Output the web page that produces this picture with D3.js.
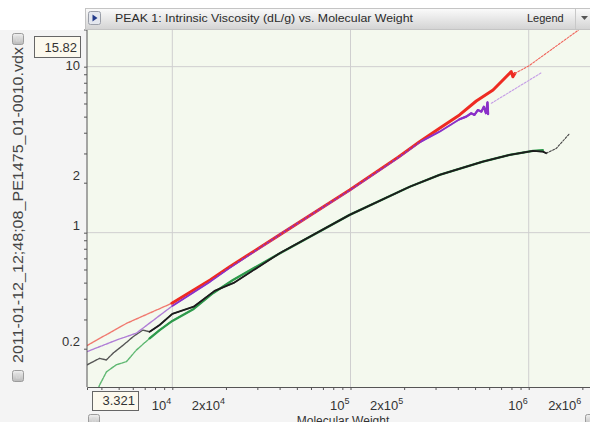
<!DOCTYPE html>
<html>
<head>
<meta charset="utf-8">
<script src="https://cdn.jsdelivr.net/npm/d3@7"></script>
<style>
  body { margin: 0; background: #fff; }
  svg { display: block; font-family: "Liberation Sans", Arial, sans-serif; }
</style>
</head>
<body>
<script>
/* values */
const TITLE = "PEAK 1: Intrinsic Viscosity (dL/g) vs. Molecular Weight";
const FILE_NAME = "2011-01-12_12;48;08_PE1475_01-0010.vdx";
const X_TITLE = "Molecular Weight";
const X_MIN = 3321, Y_MAX = 15.82;           // shown in the two range boxes

const redMW = [3321, 5560, 9950, 16300, 21000, 40000, 98900, 185000, 244000, 316000, 409000, 508000, 631000, 798000, 815000, 836000];
const redIV = [0.209, 0.285, 0.376, 0.519, 0.624, 0.97, 1.81, 2.85, 3.53, 4.25, 5.12, 6.21, 7.24, 9.33, 8.7, 9.1];
const redFitMW = [836000, 1000000, 1900000];
const redFitIV = [9.1, 10.1, 16.6];

const purpleMW = [3321, 4890, 6280, 10000, 16300, 21000, 40000, 98900, 185000, 244000, 316000, 409000, 446000, 476000, 496000, 518000, 543000, 560000, 575000, 587000, 592000];
const purpleIV = [0.192, 0.226, 0.248, 0.362, 0.507, 0.615, 0.97, 1.80, 2.83, 3.5, 4.06, 4.82, 5.0, 5.24, 5.12, 5.48, 5.36, 5.74, 5.24, 6.1, 5.18];
const purpleFitMW = [617000, 1180000];
const purpleFitIV = [6.02, 9.2];

const blackMW = [3330, 3910, 4260, 4650, 5330, 6020, 6840, 7460, 8490, 10000, 13180, 17270, 22100, 40000, 98900, 214800, 316000, 553000, 782000, 1057000, 1200000, 1256000];
const blackIV = [0.160, 0.175, 0.171, 0.188, 0.211, 0.236, 0.259, 0.253, 0.278, 0.324, 0.358, 0.446, 0.498, 0.751, 1.28, 1.89, 2.23, 2.68, 2.94, 3.11, 3.08, 3.01];
const blackTailMW = [1256000, 1430000, 1700000];
const blackTailIV = [3.01, 3.22, 3.97];

const greenMW = [3780, 3910, 4270, 4850, 5520, 6280, 7460, 8490, 10000, 13180, 16900, 21900, 40000, 98900, 214800, 316000, 553000, 782000, 1057000, 1200000];
const greenIV = [0.110, 0.121, 0.145, 0.160, 0.167, 0.196, 0.231, 0.259, 0.294, 0.347, 0.432, 0.519, 0.75, 1.28, 1.89, 2.23, 2.68, 2.94, 3.11, 3.14];

const xMinorTicks = [4000, 5000, 6000, 7000, 8000, 9000, 10000, 20000, 30000, 40000, 50000, 60000, 70000, 80000, 90000,
  100000, 200000, 300000, 400000, 500000, 600000, 700000, 800000, 900000, 1000000, 2000000];
const xLabels = [[1e4, "", "4"], [2e4, "2x", "4"], [1e5, "", "5"], [2e5, "2x", "5"], [1e6, "", "6"], [2e6, "2x", "6"]];
const yMinorTicks = [0.2, 0.3, 0.4, 0.5, 0.6, 0.7, 0.8, 0.9, 1, 2, 3, 4, 5, 6, 7, 8, 9, 10];
const yLabels = [[10, "10"], [2, "2"], [1, "1"], [0.2, "0.2"]];
const gridX = [1e4, 1e5, 1e6];
const gridY = [1, 10];

const W = 590, H = 422;
const plot = { left: 87, right: 590, top: 30, bottom: 387 };
const boxY = { x: 34, y: 36, w: 46, h: 21 };

const svg = d3.select("body").append("svg").attr("width", W).attr("height", H);

// scales: left edge = X_MIN, ~178px per decade; top = Y_MAX, ~166px per decade
const x = d3.scaleLog().domain([X_MIN, X_MIN * Math.pow(10, (plot.right - plot.left) / 178.2)]).range([plot.left, plot.right]);
const y = d3.scaleLog().domain([Y_MAX / Math.pow(10, (plot.bottom - 33.6) / 166), Y_MAX]).range([plot.bottom, 33.6]);

/* panels */
svg.append("rect").attr("x", 0).attr("y", 30).attr("width", W).attr("height", H - 30).attr("fill", "#f4f4f4");
svg.append("rect").attr("x", plot.left).attr("y", plot.top)
  .attr("width", plot.right - plot.left).attr("height", plot.bottom - plot.top).attr("fill", "#f4f9ee");

const defs = svg.append("defs");
defs.append("clipPath").attr("id", "clip").append("rect")
  .attr("x", plot.left).attr("y", plot.top).attr("width", plot.right - plot.left).attr("height", plot.bottom - plot.top);
const grad = defs.append("linearGradient").attr("id", "bar").attr("x1", 0).attr("x2", 0).attr("y1", 0).attr("y2", 1);
grad.append("stop").attr("offset", 0).attr("stop-color", "#fbfbfb");
grad.append("stop").attr("offset", 1).attr("stop-color", "#d3d3d3");
const btn = defs.append("linearGradient").attr("id", "btn").attr("x1", 0).attr("x2", 0).attr("y1", 0).attr("y2", 1);
btn.append("stop").attr("offset", 0).attr("stop-color", "#f0f0f0");
btn.append("stop").attr("offset", 1).attr("stop-color", "#b9b9b9");

/* grid */
const grid = svg.append("g").attr("stroke", "#cfcfcf").attr("stroke-width", 1);
grid.selectAll(".gx").data(gridX).enter().append("line")
  .attr("x1", d => x(d)).attr("x2", d => x(d)).attr("y1", plot.top).attr("y2", plot.bottom);
grid.selectAll(".gy").data(gridY).enter().append("line")
  .attr("x1", plot.left).attr("x2", plot.right).attr("y1", d => y(d)).attr("y2", d => y(d));

/* series */
const line = d3.line().x(d => x(d[0])).y(d => y(d[1]));
const zip = (a, b) => a.map((v, i) => [v, b[i]]);
const curves = svg.append("g").attr("clip-path", "url(#clip)").attr("fill", "none")
  .attr("stroke-linejoin", "round").attr("stroke-linecap", "round");

function series(mw, iv, faint, solid, lowCut, width) {
  const pts = zip(mw, iv);
  curves.append("path").attr("d", line(pts)).attr("stroke", faint).attr("stroke-width", 1.4)
    .attr("stroke-dasharray", "3,1");
  curves.append("path").attr("d", line(pts.filter(p => p[0] >= lowCut)))
    .attr("stroke", solid).attr("stroke-width", width);
}
function dotted(mw, iv, color) {
  curves.append("path").attr("d", line(zip(mw, iv))).attr("stroke", color)
    .attr("stroke-width", 1.1).attr("stroke-dasharray", "2,1.5");
}

series(greenMW, greenIV, "#5fb872", "#2e9a4c", 7400, 2.3);
series(blackMW, blackIV, "#555", "#1c1c1c", 7400, 1.8);
dotted(blackTailMW, blackTailIV, "#444");
series(redMW, redIV, "#f07a70", "#ee2b22", 9000, 3);
dotted(redFitMW, redFitIV, "#f0655c");
series(purpleMW, purpleIV, "#b07ed6", "#8a30c8", 7000, 1.8);
dotted(purpleFitMW, purpleFitIV, "#c49ce6");
// red dashes shine through where red and purple overlap
curves.append("path").attr("d", line(zip(redMW, redIV).filter(p => p[0] >= 9000 && p[0] <= 250000)))
  .attr("stroke", "#ee2b22").attr("stroke-width", 1.4).attr("stroke-dasharray", "2,3");
curves.append("path").attr("d", line(zip(purpleMW, purpleIV).filter(p => p[0] >= 400000)))
  .attr("stroke", "#8a30c8").attr("stroke-width", 2.2);

/* axes */
const xAxis = svg.append("g").attr("transform", `translate(0,${plot.bottom})`)
  .call(d3.axisBottom(x).tickValues(xMinorTicks).tickSize(3).tickFormat(""));
xAxis.select(".domain").attr("stroke", "#555");
xAxis.selectAll(".tick line").attr("stroke", "#555");

const xl = svg.append("g").attr("font-size", 13).attr("fill", "#333").attr("text-anchor", "end");
xLabels.forEach(([v, pre, exp]) => {
  const t = xl.append("text").attr("x", x(v) - 1).attr("y", plot.bottom + 23);
  t.append("tspan").text(pre + "10");
  t.append("tspan").attr("font-size", 9).attr("dy", -6).text(exp);
});

const yAxis = svg.append("g").attr("transform", `translate(${plot.left},0)`)
  .call(d3.axisLeft(y).tickValues(yMinorTicks).tickSize(3).tickFormat(""));
yAxis.select(".domain").attr("stroke", "#555").attr("d", `M-3,${plot.top}H0V${plot.bottom}`);
yAxis.selectAll(".tick line").attr("stroke", "#555");

// labels sit just above their tick, pushed below the range box when they would hide under it
svg.append("g").attr("font-size", 13).attr("fill", "#333").attr("text-anchor", "end")
  .selectAll("text").data(yLabels).enter().append("text")
  .attr("x", plot.left - 7)
  .attr("y", d => Math.max(y(d[0]) - 3, boxY.y + boxY.h + 13)).text(d => d[1]);

svg.append("text").attr("x", 343).attr("y", 425).attr("text-anchor", "middle")
  .attr("font-size", 12).attr("fill", "#333").text(X_TITLE);

svg.append("text").attr("transform", "translate(23,205) rotate(-90)").attr("text-anchor", "middle")
  .attr("font-size", 14).attr("fill", "#444").attr("textLength", 316).attr("lengthAdjust", "spacingAndGlyphs")
  .text(FILE_NAME);

/* toolbar */
svg.append("rect").attr("x", 85.5).attr("y", 8.5).attr("width", 510).attr("height", 21)
  .attr("fill", "url(#bar)").attr("stroke", "#c4c4c4");
svg.append("rect").attr("x", 88.5).attr("y", 11.5).attr("width", 12).attr("height", 13).attr("rx", 2)
  .attr("fill", "#e4e7ee").attr("stroke", "#9a9ea8");
svg.append("path").attr("d", "M92.5,14.5L97.5,18L92.5,21.5Z").attr("fill", "#223a8a");
svg.append("text").attr("x", 115).attr("y", 22).attr("font-size", 11).attr("fill", "#2a2a2a")
  .attr("textLength", 298).attr("lengthAdjust", "spacingAndGlyphs").text(TITLE);
svg.append("text").attr("x", 527).attr("y", 22).attr("font-size", 11).attr("fill", "#2a2a2a").text("Legend");
svg.append("line").attr("x1", 575.5).attr("x2", 575.5).attr("y1", 9).attr("y2", 29).attr("stroke", "#c8c8c8");
svg.append("path").attr("d", "M581,16H588L584.5,20Z").attr("fill", "#555");

/* range boxes & small buttons */
function box(bx, by, w, h, label) {
  svg.append("rect").attr("x", bx + 0.5).attr("y", by + 0.5).attr("width", w).attr("height", h)
    .attr("fill", "#fcf9ee").attr("stroke", "#666");
  svg.append("text").attr("x", bx + w - 3).attr("y", by + h - 5).attr("text-anchor", "end")
    .attr("font-size", 13).attr("fill", "#333").text(label);
}
box(boxY.x, boxY.y, boxY.w, boxY.h, Y_MAX);
box(92, 391, 46, 19, X_MIN.toLocaleString("en-US").replace(",", "."));

function button(bx, by, s) {
  svg.append("rect").attr("x", bx + 0.5).attr("y", by + 0.5).attr("width", s).attr("height", s).attr("rx", 2)
    .attr("fill", "url(#btn)").attr("stroke", "#9c9c9c");
  svg.append("rect").attr("x", bx + s / 2 - 1).attr("y", by + s / 2 - 1.5).attr("width", 3).attr("height", 4)
    .attr("fill", "none").attr("stroke", "#d8d8d8").attr("stroke-width", 0.8);
}
button(12, 33, 11);
button(12, 370, 11);
button(88, 414, 11);
button(585, 414, 11);
</script>
</body>
</html>
